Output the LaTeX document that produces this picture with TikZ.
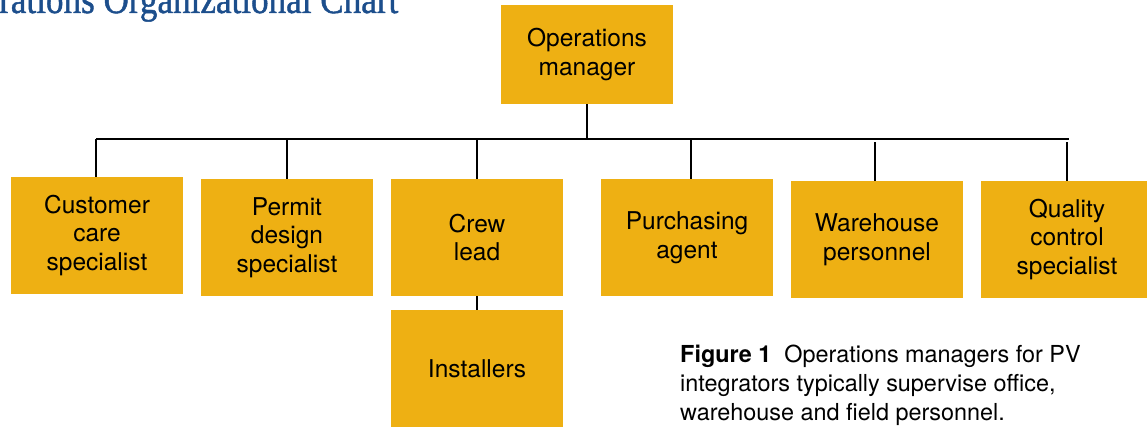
\documentclass[tikz,border=0pt]{standalone}
\usepackage{fontspec}
\setmainfont{TeX Gyre Heros}
\newfontfamily\headfont[FakeBold=1.2]{Liberation Serif}
\usetikzlibrary{positioning}
\definecolor{boxgold}{HTML}{EEB013}
\definecolor{headblue}{HTML}{1C4E8C}
\begin{document}
\begin{tikzpicture}[x=1pt,y=-1pt,
  role/.style={fill=boxgold, draw=none, minimum width=172pt, minimum height=117pt,
    inner sep=0pt, align=center, font=\fontsize{24.5}{28.5}\selectfont},
  link/.style={draw=black, line width=2.2pt}]
  \useasboundingbox (0,0) rectangle (1147,427);

  % heading, cut by the top edge of the page
  \node[anchor=base west, inner sep=0pt, text=headblue] (title) at (-1,13)
    {\resizebox{399pt}{28pt}{\headfont rations Organizational Chart}};

  % positions
  \node[role, minimum height=99pt] (mgr) at (587,54.5) {Operations\\manager};
  \node[role] (cust)  at (97,235.5)   {Customer\\care\\specialist};
  \node[role] (perm)  at (287,237.5)  {Permit\\design\\specialist};
  \node[role] (crew)  at (477,237.5)  {Crew\\lead};
  \node[role] (purch) at (687,237.5)  {Purchasing\\agent};
  \node[role] (ware)  at (877,239.5)  {Warehouse\\personnel};
  \node[role] (qual)  at (1067,239.5) {Quality\\control\\specialist};
  \node[role] (inst)  at (477,368.5)  {Installers};

  % reporting lines
  \coordinate (busL) at (96,139);
  \coordinate (busR) at (1069,139);
  \draw[link] (busL) -- (busR);
  \draw[link] (mgr.south) -- (mgr.south |- busL);
  \draw[link] ([xshift=-1pt]cust.north) -- ([xshift=-1pt]cust.north |- busL);
  \draw[link] (perm.north) -- (perm.north |- busL);
  \draw[link] (crew.north) -- (crew.north |- busL);
  \draw[link] ([xshift=4pt]purch.north) -- ([xshift=4pt]purch.north |- busL);
  \draw[link] ([xshift=-2pt]ware.north) -- ([xshift=-2pt,yshift=-3pt]ware.north |- busL);
  \draw[link] (qual.north) -- ([yshift=-3pt]qual.north |- busL);
  \draw[link] (crew.south) -- (inst.north);

  % caption
  \node[anchor=north west, inner sep=0pt, align=left,
        font=\fontsize{23.4}{29}\selectfont] (cap) at (680,344.5)
    {\textbf{Figure 1}\ \ Operations managers for PV\\
     integrators typically supervise office,\\
     warehouse and field personnel.};
\end{tikzpicture}
\end{document}
